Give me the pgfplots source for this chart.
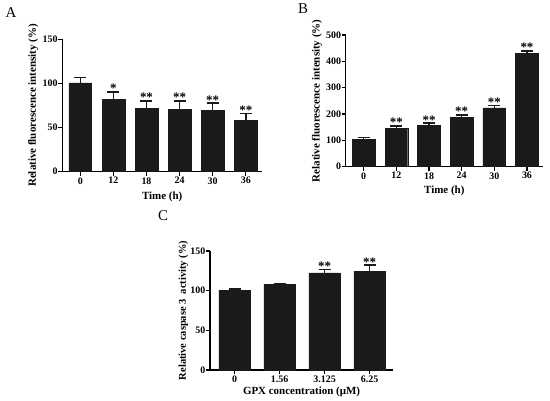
\documentclass[border=0pt]{standalone}
\usepackage{fontspec}
\setmainfont{Liberation Serif}
\usepackage{pgfplots}
\pgfplotsset{compat=1.18}

\definecolor{barfill}{HTML}{1A1A1A}

\pgfplotsset{
  gp/.style={
    scale only axis,
    axis x line*=bottom, axis y line*=left,
    axis line style={line width=1.2pt, black},
    tick align=outside,
    major tick length=4bp,
    tick style={line width=1.1pt, black},
    xtick=data,
    ymin=0,
    tick label style={font=\bfseries\fontsize{10}{10}\selectfont},
    yticklabel style={inner sep=0.5bp},
    xticklabel style={inner sep=1.5bp},
    label style={font=\bfseries\fontsize{11}{12}\selectfont},
    ylabel style={at={(axis description cs:-0.146,0.5)}, anchor=center},
    /pgf/number format/assume math mode=true,
    clip=false,
  },
  bars/.style={ybar, bar width=#1, fill=barfill, draw=barfill,
    error bars/.cd, y dir=plus, y explicit,
    error bar style={line width=1.6pt, barfill},
    error mark options={rotate=90, mark size=6bp, line width=1.6pt, barfill}},
  stars/.style={draw=none, mark=none, nodes near coords, point meta=explicit symbolic,
    nodes near coords style={font=\bfseries\fontsize{13}{13}\selectfont, anchor=south, inner sep=0pt, yshift=-1bp}},
}

\begin{document}
\begin{tikzpicture}
\path[use as bounding box] (0,0) rectangle (550bp,401bp);

% A
\node[font=\fontsize{15}{15}\selectfont] at (11bp,388bp) {A};
\begin{axis}[gp,
  at={(62.3bp,229.3bp)}, anchor=south west,
  width=199.7bp, height=132.4bp,
  xmin=0.456, xmax=6.49,
  xticklabels={0,12,18,24,30,36},
  ymax=150, ytick={0,50,100,150},
  ylabel={Relative fluorescence intensity (\%)},
  xlabel={Time (h)},
  xlabel style={at={(axis description cs:0.5,0)}, yshift=-25bp, anchor=center},
]
\addplot[bars=22.7bp] coordinates {
  (1,100.5) +- (0,6.1)
  (2,81.6) +- (0,8.7)
  (3,71.8) +- (0,8.2)
  (4,70.3) +- (0,10.1)
  (5,69.5) +- (0,8.0)
  (6,57.8) +- (0,8.3)
};
\addplot[stars] coordinates {
  (2,90.3) [*]
  (3,80.0) [**]
  (4,80.4) [**]
  (5,77.5) [**]
  (6,66.1) [**]
};
\end{axis}

% B
\node[font=\fontsize{15}{15}\selectfont] at (303bp,392.5bp) {B};
\begin{axis}[gp,
  at={(345.7bp,234.3bp)}, anchor=south west,
  width=197.3bp, height=131.7bp,
  xmin=0.449, xmax=6.49,
  xticklabels={0,12,18,24,30,36},
  ymax=500, ytick={0,100,200,300,400,500},
  ylabel={Relative fluorescence intensity (\%)},
  xlabel={Time (h)},
  xlabel style={at={(axis description cs:0.5,0)}, yshift=-24.5bp, anchor=center},
]
\addplot[bars=22.7bp] coordinates {
  (1,103) +- (0,8)
  (2,145) +- (0,10)
  (3,156) +- (0,9)
  (4,188) +- (0,9)
  (5,223) +- (0,10)
  (6,431) +- (0,9)
};
\addplot[stars] coordinates {
  (2,155) [**]
  (3,165) [**]
  (4,197) [**]
  (5,233) [**]
  (6,440) [**]
};
\end{axis}

% C
\node[font=\fontsize{15}{15}\selectfont] at (163bp,185bp) {C};
\begin{axis}[gp,
  at={(210bp,31bp)}, anchor=south west,
  width=183bp, height=119bp,
  xmin=0.45, xmax=4.52,
  xticklabels={0,1.56,3.125,6.25},
  ymax=150, ytick={0,50,100,150},
  ylabel={Relative caspase 3~ activity (\%)},
  ylabel style={font=\bfseries\fontsize{10.5}{12}\selectfont},
  xlabel={GPX concentration (μM)},
  xlabel style={at={(axis description cs:0.5,0)}, yshift=-21.7bp, anchor=center},
]
\addplot[bars=31.5bp] coordinates {
  (1,100.8) +- (0,1.2)
  (2,107.6) +- (0,1.6)
  (3,122.3) +- (0,4.2)
  (4,124.4) +- (0,7.6)
};
\addplot[stars] coordinates {
  (3,126.5) [**]
  (4,132.0) [**]
};
\end{axis}
\end{tikzpicture}
\end{document}
